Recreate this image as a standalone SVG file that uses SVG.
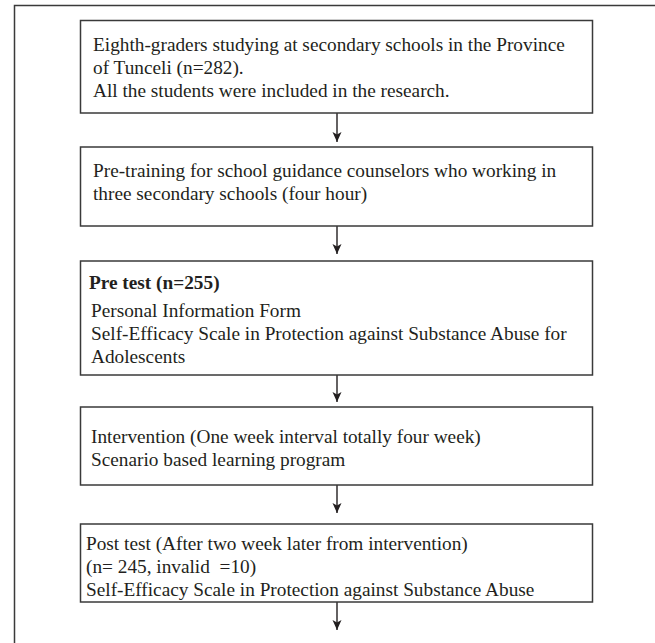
<svg xmlns="http://www.w3.org/2000/svg" width="655" height="643" viewBox="0 0 655 643">
<style>
.frame{fill:none;stroke:#3a3a3a;stroke-width:1.5}
.box{fill:#fff;stroke:#3a3a3a;stroke-width:1.5}
.t{font-family:"Liberation Serif","Times New Roman",serif;font-size:19.3px;fill:#231f20;white-space:pre}
.b{font-weight:bold}
.conn{stroke:#231f20;stroke-width:1.4;fill:none}
</style>
<defs>
<marker id="ah" viewBox="0 0 10 10" refX="10" refY="5" markerWidth="10" markerHeight="10" markerUnits="userSpaceOnUse" orient="auto">
<path d="M0,0.5 L10,5 L0,9.5 L2.5,5 Z" fill="#231f20"/>
</marker>
</defs>
<rect width="655" height="643" fill="#fff"/>
<path class="frame" d="M14.5,643 L14.5,5.5 L655,5.5"/>
<g id="connectors">
<line class="conn" x1="337" y1="113" x2="337" y2="142" marker-end="url(#ah)"/>
<line class="conn" x1="337" y1="226" x2="337" y2="254" marker-end="url(#ah)"/>
<line class="conn" x1="337" y1="375" x2="337" y2="402" marker-end="url(#ah)"/>
<line class="conn" x1="337" y1="485" x2="337" y2="513" marker-end="url(#ah)"/>
<line class="conn" x1="337" y1="602" x2="337" y2="630" marker-end="url(#ah)"/>
</g>
<g id="node1">
<rect class="box" x="80.5" y="20.5" width="512" height="92.5"/>
<text class="t" x="93" y="51">Eighth-graders studying at secondary schools in the Province</text>
<text class="t" x="93" y="74">of Tunceli (n=282).</text>
<text class="t" x="93" y="97">All the students were included in the research.</text>
</g>
<g id="node2">
<rect class="box" x="80.5" y="147" width="512" height="79"/>
<text class="t" x="93" y="177">Pre-training for school guidance counselors who working in</text>
<text class="t" x="93" y="200">three secondary schools (four hour)</text>
</g>
<g id="node3">
<rect class="box" x="80.5" y="261" width="512" height="114"/>
<text class="t b" x="89" y="289">Pre test (n=255)</text>
<text class="t" x="91" y="317">Personal Information Form</text>
<text class="t" x="91" y="340">Self-Efficacy Scale in Protection against Substance Abuse for</text>
<text class="t" x="91" y="363">Adolescents</text>
</g>
<g id="node4">
<rect class="box" x="80.5" y="407" width="512" height="78"/>
<text class="t" x="91" y="443">Intervention (One week interval totally four week)</text>
<text class="t" x="91" y="466">Scenario based learning program</text>
</g>
<g id="node5">
<rect class="box" x="80.5" y="524" width="512" height="78"/>
<text class="t" x="86" y="550">Post test (After two week later from intervention)</text>
<text class="t" x="86" y="573">(n= 245, invalid  =10)</text>
<text class="t" x="86" y="596">Self-Efficacy Scale in Protection against Substance Abuse</text>
</g>
</svg>
